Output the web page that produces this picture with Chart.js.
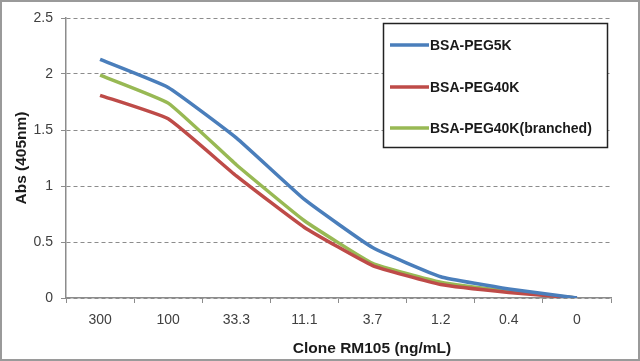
<!DOCTYPE html>
<html><head><meta charset="utf-8">
<script src="https://cdn.jsdelivr.net/npm/chart.js@4/dist/chart.umd.min.js"></script>
<style>html,body{margin:0;padding:0;background:#fff}#wrap{width:640px;height:361px;position:relative}</style>
</head><body><div id="wrap"><canvas id="c" width="640" height="361"></canvas></div>
<script>
const categories = ["300","100","33.3","11.1","3.7","1.2","0.4","0"];
const peg5k = [2.13,1.88,1.43,0.88,0.45,0.19,0.08,0];
const peg40k = [1.81,1.60,1.09,0.63,0.29,0.12,0.05,0];
const peg40kBranched = [1.99,1.74,1.19,0.69,0.31,0.14,0.06,0];
const seriesNames = ["BSA-PEG5K","BSA-PEG40K","BSA-PEG40K(branched)"];
const colors = ["#4a7ebb","#be4b48","#98b954"];
const yTicks = [0,0.5,1,1.5,2,2.5];
const xTitle = "Clone RM105 (ng/mL)";
const yTitle = "Abs (405nm)";

const FONT='"Liberation Sans", Arial, sans-serif';
const legendPlugin = {
  id:'boxLegend',
  afterDatasetsDraw(chart){
    const ctx = chart.ctx;
    ctx.save();
    ctx.fillStyle='#fff';
    ctx.fillRect(383,23,225,125);
    ctx.strokeStyle='#222';ctx.lineWidth=1.5;
    ctx.strokeRect(383.5,23.5,224,124);
    const ys=[45,87,128];
    chart.data.datasets.forEach((d,i)=>{
      ctx.strokeStyle=d.borderColor;ctx.lineWidth=3.5;
      ctx.beginPath();ctx.moveTo(390,ys[i]);ctx.lineTo(429,ys[i]);ctx.stroke();
      ctx.fillStyle='#1a1a1a';ctx.font='bold 14px '+FONT;
      ctx.textBaseline='middle';ctx.textAlign='left';
      ctx.fillText(d.label,430,ys[i]+1);
    });
    ctx.restore();
  },
  afterDraw(chart){
    const ctx=chart.ctx;ctx.save();
    ctx.fillStyle='#1a1a1a';ctx.font='bold 15.5px '+FONT;
    ctx.textAlign='center';ctx.textBaseline='middle';
    ctx.fillText(xTitle,372,349);
    ctx.strokeStyle='#9a9a9a';ctx.lineWidth=2;
    ctx.strokeRect(1,1,638,359);
    ctx.restore();
  }
};

new Chart(document.getElementById('c'),{
  type:'line',
  data:{labels:categories,datasets:[
    {label:seriesNames[0],data:peg5k,borderColor:colors[0]},
    {label:seriesNames[1],data:peg40k,borderColor:colors[1]},
    {label:seriesNames[2],data:peg40kBranched,borderColor:colors[2]}
  ].map(d=>Object.assign(d,{borderWidth:3.5,pointRadius:0,tension:0.12,fill:false}))},
  options:{
    responsive:false,animation:false,
    layout:{padding:{left:8,right:29,top:18,bottom:0}},
    plugins:{legend:{display:false},tooltip:{enabled:false}},
    scales:{
      x:{
        offset:true,
        grid:{offset:true,drawOnChartArea:false,tickLength:5,color:'#8c8c8c',lineWidth:1},
        border:{color:'#8c8c8c',width:1.5},
        ticks:{color:'#404040',font:{family:FONT,size:14},padding:9,maxRotation:0},
        title:{display:false},
        afterFit(s){s.height=63;}
      },
      y:{
        min:0,max:2.5,
        afterBuildTicks(s){s.ticks=yTicks.map(v=>({value:v}));},
        grid:{color:'#8c8c8c',lineWidth:1,tickLength:5,tickBorderDash:[],tickColor:'#8c8c8c'},
        border:{color:'#8c8c8c',width:1.5,dash:[4,3]},
        ticks:{color:'#404040',font:{family:FONT,size:14},padding:8,callback:v=>String(v)},
        title:{display:true,text:yTitle,color:'#1a1a1a',font:{family:FONT,size:15.5,weight:'bold'},padding:{top:4,bottom:6}},
        afterFit(s){s.width=58;}
      }
    }
  },
  plugins:[legendPlugin]
});
</script></body></html>
